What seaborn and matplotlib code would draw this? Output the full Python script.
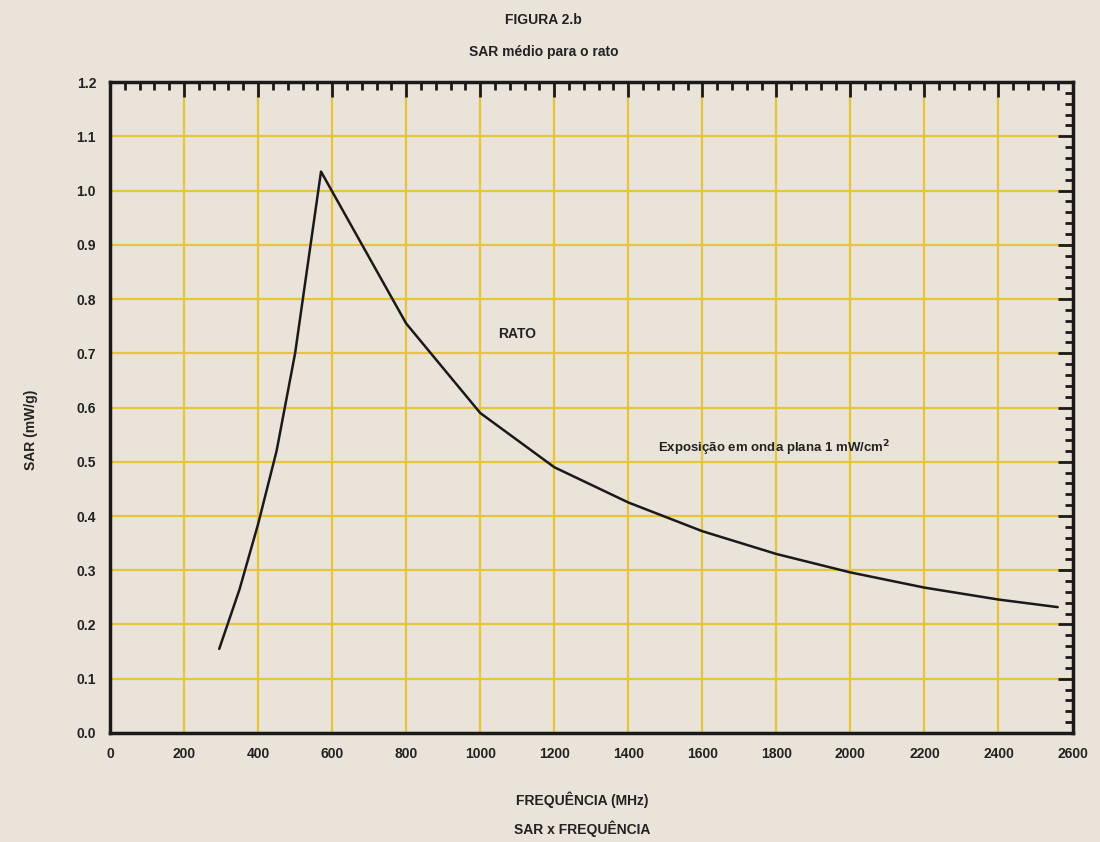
import matplotlib
matplotlib.use("Agg")
from matplotlib import pyplot as plt
from matplotlib.ticker import MultipleLocator, AutoMinorLocator
import seaborn as sns
import pandas as pd

# valores (frequencia em MHz, SAR em mW/g)
freq = [295, 350, 400, 450, 500, 570, 800, 1000, 1200, 1400, 1600, 1800, 2000, 2200, 2400, 2560]
sar = [0.155, 0.265, 0.385, 0.52, 0.70, 1.035, 0.755, 0.59, 0.49, 0.425, 0.372, 0.33, 0.296, 0.268, 0.246, 0.232]

x_ticks = list(range(0, 2601, 200))
y_ticks = [round(0.1 * i, 1) for i in range(13)]

paper = "#e9e3d9"
yellow = "#e6c53a"

sns.set_style("white", {"axes.facecolor": paper, "figure.facecolor": paper})
plt.rcParams["font.family"] = ["Liberation Sans", "DejaVu Sans"]
plt.rcParams["font.weight"] = "bold"

df = pd.DataFrame({"freq": freq, "sar": sar})

fig = plt.figure(figsize=(11, 8.42), dpi=100)
ax = fig.add_axes([0.1, 0.1295, 0.875, 0.773])

sns.lineplot(data=df, x="freq", y="sar", color="#1a1a1a", linewidth=1.8,
             estimator=None, sort=False, ax=ax)

ax.set_xlim(0, 2600)
ax.set_ylim(0, 1.2)
ax.set_xticks(x_ticks)
ax.set_yticks(y_ticks)
ax.set_yticklabels([f"{v:.1f}" for v in y_ticks])
ax.xaxis.set_minor_locator(AutoMinorLocator(5))
ax.yaxis.set_minor_locator(AutoMinorLocator(5))

ax.grid(True, which="major", color=yellow, linewidth=1.6)
ax.set_axisbelow(True)

for s in ax.spines.values():
    s.set_visible(True)
    s.set_color("#1a1a1a")
    s.set_linewidth(2.5)

ax.tick_params(which="both", direction="in", top=True, right=True,
               color="#1a1a1a", width=2)
ax.tick_params(which="major", length=11, labelsize=10)
ax.tick_params(which="minor", length=6)
ax.tick_params(axis="x", pad=10)
ax.tick_params(axis="y", pad=10)
for lab in ax.get_xticklabels() + ax.get_yticklabels():
    lab.set_fontweight("bold")
    lab.set_color("#222222")

ax.set_xlabel("")
ax.set_ylabel("")

ax.text(1100, 0.735, "RATO", ha="center", va="center", fontsize=10,
        fontweight="bold", color="#222222")
ax.text(1480, 0.525, "Exposição em onda plana 1 mW/cm$^\\mathbf{2}$", ha="left",
        va="center", fontsize=9.5, fontweight="bold", color="#222222")

fig.text(0.494, 0.976, "FIGURA 2.b", ha="center", va="center", fontsize=10,
         fontweight="bold", color="#222222")
fig.text(0.494, 0.938, "SAR médio para o rato", ha="center", va="center",
         fontsize=10, fontweight="bold", color="#222222")
fig.text(0.529, 0.05, "FREQUÊNCIA (MHz)", ha="center", va="center", fontsize=10,
         fontweight="bold", color="#222222")
fig.text(0.529, 0.016, "SAR x FREQUÊNCIA", ha="center", va="center", fontsize=10,
         fontweight="bold", color="#222222")
fig.text(0.028, 0.49, "SAR (mW/g)", ha="center", va="center", rotation=90,
         fontsize=10, fontweight="bold", color="#222222")

fig.savefig("out.png", dpi=100, facecolor=paper)
